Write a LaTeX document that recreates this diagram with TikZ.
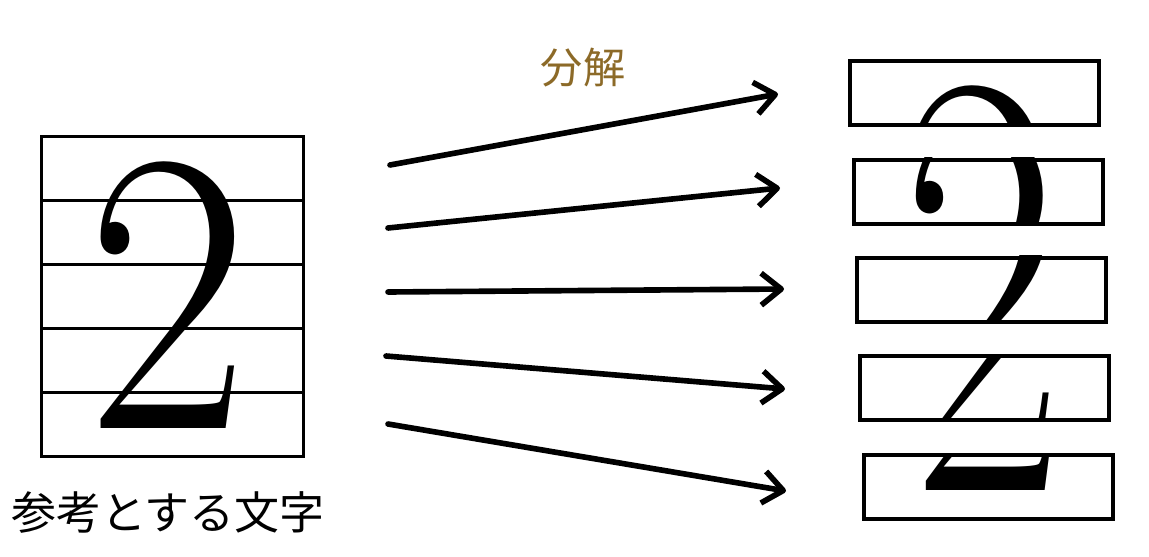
\documentclass[tikz,border=0pt]{standalone}
\usepackage{fontspec}
\newfontfamily\cjk{Noto Sans CJK JP}
\definecolor{LabelBrown}{HTML}{8C6A28}
\usepackage{tikz}
\usetikzlibrary{positioning,arrows.meta}

\tikzset{
  strip/.style={draw, line width=2.2pt, minimum width=6.55cm, minimum height=1.6cm, inner sep=0pt, anchor=north west},
  piece/.style={draw, line width=2.8pt, minimum width=6.22cm, minimum height=1.6cm, inner sep=0pt, anchor=north west},
  digit/.style={inner sep=0pt, anchor=base, xscale=0.88, font=\fontsize{287}{287}\selectfont},
  split/.style={line width=4pt, line cap=round, -{Straight Barb[length=5mm, width=8mm, line join=round]}}
}

\begin{document}
\begin{tikzpicture}[x=0.025cm, y=-0.025cm]
  \useasboundingbox (0,0) rectangle (1149,557);

  % reference character, cut into five strips
  \node[digit] (ref) at (168,428) {2};
  \node[strip] (L1) at (40,135) {};
  \node[strip] (L2) at (40,199) {};
  \node[strip] (L3) at (40,263) {};
  \node[strip] (L4) at (40,327) {};
  \node[strip] (L5) at (40,391) {};
  \node[font=\cjk\fontsize{32}{32}\selectfont] (reflabel) at (168,512) {参考とする文字};

  % the pieces
  \begin{scope}[shift={(848,59)}, xscale=0.95, transform shape]
    \clip (0,0) rectangle (262,64);
    \node[digit] (d1) at (135,293) {2};
  \end{scope}
  \begin{scope}[shift={(852,158)}, xscale=0.95, transform shape]
    \clip (0,0) rectangle (262,64);
    \node[digit] (d2) at (135,229) {2};
  \end{scope}
  \begin{scope}[shift={(855,256)}, xscale=0.95, transform shape]
    \clip (0,0) rectangle (262,64);
    \node[digit] (d3) at (135,165) {2};
  \end{scope}
  \begin{scope}[shift={(858,354)}, xscale=0.95, transform shape]
    \clip (0,0) rectangle (262,64);
    \node[digit] (d4) at (135,101) {2};
  \end{scope}
  \begin{scope}[shift={(862,453)}, xscale=0.95, transform shape]
    \clip (0,0) rectangle (262,64);
    \node[digit] (d5) at (135,37) {2};
  \end{scope}
  \node[piece] (R1) at (848,59) {};
  \node[piece] (R2) at (852,158) {};
  \node[piece] (R3) at (855,256) {};
  \node[piece] (R4) at (858,354) {};
  \node[piece] (R5) at (862,453) {};

  % arrows
  \coordinate (a1) at (390,165);
  \coordinate (a2) at (388,228);
  \coordinate (a3) at (388,292);
  \coordinate (a4) at (386,356);
  \coordinate (a5) at (388,424);
  \coordinate (b1) at (778,94);
  \coordinate (b2) at (780,188);
  \coordinate (b3) at (784,289);
  \coordinate (b4) at (785,389);
  \coordinate (b5) at (786,491);
  \draw[split] (a1) -- (b1);
  \draw[split] (a2) -- (b2);
  \draw[split] (a3) -- (b3);
  \draw[split] (a4) -- (b4);
  \draw[split] (a5) -- (b5);
  \node[LabelBrown, font=\cjk\fontsize{30}{30}\selectfont] (splitlabel) at (583,68) {分解};
\end{tikzpicture}
\end{document}
